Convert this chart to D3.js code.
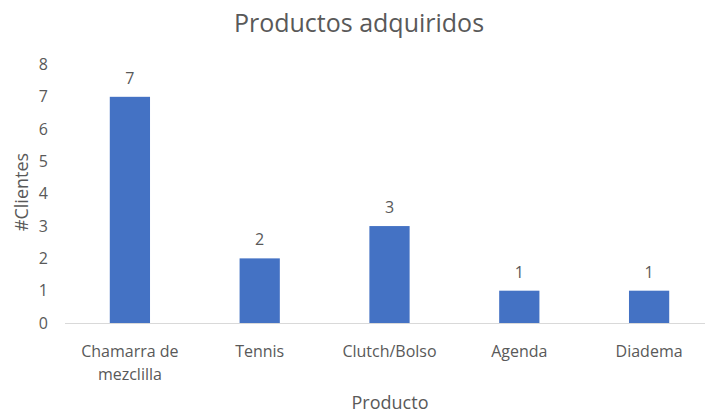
<!DOCTYPE html>
<html>
<head>
<meta charset="utf-8">
<script src="https://cdn.jsdelivr.net/npm/d3@7"></script>
<style>
  html, body { margin: 0; padding: 0; background: #fff; }
  svg { display: block; }
  text { font-family: "Open Sans", "Noto Sans", sans-serif; fill: #595959; }
</style>
</head>
<body>
<script>
// Products bought and number of clients per product
const categories = ["Chamarra de mezclilla", "Tennis", "Clutch/Bolso", "Agenda", "Diadema"];
const clients = [7, 2, 3, 1, 1];
const yTicks = [0, 1, 2, 3, 4, 5, 6, 7, 8];

const width = 705, height = 415;
const margin = { left: 65 };
const plotRight = 714;
const plotBottom = 323;

const svg = d3.select("body").append("svg")
  .attr("width", width).attr("height", height);

const x = d3.scaleBand()
  .domain(categories)
  .range([margin.left, plotRight])
  .paddingInner(0.69)
  .paddingOuter(0.345);

const y = d3.scaleLinear()
  .domain([0, 8])
  .range([plotBottom, 64.5]);

// Title
svg.append("text")
  .attr("x", 359).attr("y", 32)
  .attr("text-anchor", "middle")
  .style("font-size", "25px")
  .text("Productos adquiridos");

// Y axis (labels only)
const yAxis = svg.append("g")
  .attr("transform", `translate(${margin.left},0)`)
  .call(d3.axisLeft(y).tickValues(yTicks).tickSize(0).tickPadding(17));
yAxis.select(".domain").remove();
yAxis.selectAll("text").style("font-size", "16px").attr("fill", "#595959");

// Bars
svg.append("g").selectAll("rect")
  .data(clients)
  .join("rect")
  .attr("x", (d, i) => x(categories[i]))
  .attr("y", d => y(d))
  .attr("width", x.bandwidth())
  .attr("height", d => y(0) - y(d))
  .attr("fill", "#4472C4");

// Value labels
svg.append("g").selectAll("text")
  .data(clients)
  .join("text")
  .attr("x", (d, i) => x(categories[i]) + x.bandwidth() / 2)
  .attr("y", d => y(d) - 13)
  .attr("text-anchor", "middle")
  .style("font-size", "16px")
  .text(d => d);

// X axis line
svg.append("line")
  .attr("x1", margin.left).attr("x2", plotRight)
  .attr("y1", y(0) + 0.5).attr("y2", y(0) + 0.5)
  .attr("stroke", "#d9d9d9").attr("stroke-width", 1);

// X axis category labels (wrapped)
const xLabels = svg.append("g").selectAll("text")
  .data(categories)
  .join("text")
  .attr("x", d => x(d) + x.bandwidth() / 2)
  .attr("y", 357)
  .attr("text-anchor", "middle")
  .style("font-size", "16px");
xLabels.each(function (d) {
  const lines = d === "Chamarra de mezclilla" ? ["Chamarra de", "mezclilla"] : [d];
  const t = d3.select(this);
  lines.forEach((ln, i) => {
    t.append("tspan")
      .attr("x", t.attr("x"))
      .attr("dy", i === 0 ? 0 : 23)
      .text(ln);
  });
});

// Axis titles
svg.append("text")
  .attr("x", 390).attr("y", 409)
  .attr("text-anchor", "middle")
  .style("font-size", "18px")
  .text("Producto");

svg.append("text")
  .attr("transform", `translate(28,192) rotate(-90)`)
  .attr("text-anchor", "middle")
  .style("font-size", "18px")
  .text("#Clientes");
</script>
</body>
</html>
